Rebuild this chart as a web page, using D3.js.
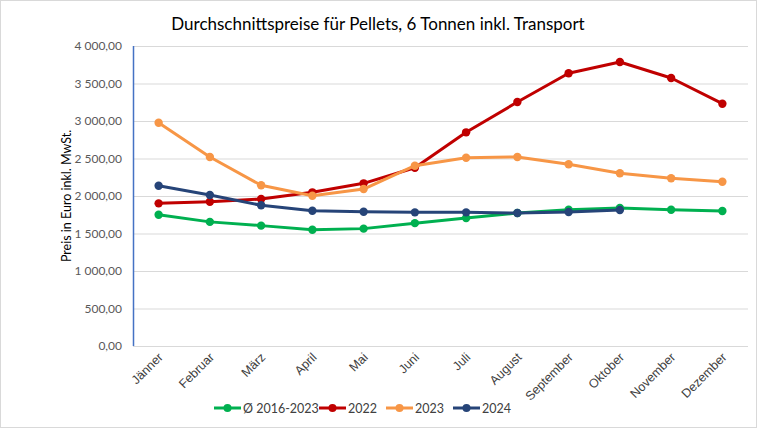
<!DOCTYPE html>
<html>
<head>
<meta charset="utf-8">
<script src="https://cdn.jsdelivr.net/npm/d3@7"></script>
<style>
  html, body { margin: 0; padding: 0; background: #fff; }
  svg { display: block; font-family: Lato, "Open Sans", sans-serif; }
</style>
</head>
<body>
<svg id="chart" width="758" height="429"></svg>
<script>
const months = ["Jänner","Februar","März","April","Mai","Juni","Juli","August","September","Oktober","November","Dezember"];
const avg2016_2023 = [1750,1655,1605,1550,1565,1638,1707,1773,1817,1840,1817,1800];
const y2022 = [1902,1924,1960,2049,2169,2377,2849,3253,3636,3787,3573,3231];
const y2023 = [2977,2520,2143,2004,2093,2404,2511,2520,2423,2303,2236,2191];
const y2024 = [2137,2013,1876,1804,1791,1782,1782,1773,1787,1813,null,null];
const yTicks = [0,500,1000,1500,2000,2500,3000,3500,4000];
const seriesNames = ["Ø 2016-2023","2022","2023","2024"];
const seriesColors = ["#00b050","#c00000","#f79646","#264478"];
const seriesData = [avg2016_2023, y2022, y2023, y2024];

const svg = d3.select("#chart");
const W = 758, H = 429;
const m = {left: 133, right: 10, top: 46, bottom: 83};

svg.append("rect").attr("x",0.5).attr("y",0.5).attr("width",W-2).attr("height",H-2)
  .attr("fill","#fff").attr("stroke","#d9d9d9");

const x = d3.scaleBand().domain(months).range([m.left, 748]);
const y = d3.scaleLinear().domain([0,4000]).range([346, 46]);

const fmt = v => {
  const s = d3.format(",.2f")(v);
  return s.replace(/,/g," ").replace(".",",");
};

// gridlines
const yAxis = d3.axisLeft(y).tickValues(yTicks).tickSize(-(748 - m.left)).tickFormat(fmt).tickPadding(11);
const gy = svg.append("g").attr("transform",`translate(${m.left},0)`).call(yAxis);
gy.select(".domain").remove();
gy.selectAll(".tick line").attr("stroke","#d9d9d9").attr("stroke-width",1);
gy.selectAll(".tick text").attr("fill","#595959").style("font-size","12px").style("font-family","Lato, sans-serif");

// vertical axis line
svg.append("line").attr("x1",m.left+0.5).attr("x2",m.left+0.5).attr("y1",y(4000)).attr("y2",y(0))
  .attr("stroke","#4472c4").attr("stroke-width",1.5);

// x axis labels
const xAxis = d3.axisBottom(x).tickSize(0).tickPadding(0);
const gx = svg.append("g").attr("transform",`translate(0,${y(0)})`).call(xAxis);
gx.select(".domain").remove();
gx.selectAll(".tick text")
  .attr("fill","#404040").style("font-size","12.5px")
  .attr("text-anchor","end")
  .attr("dy","0")
  .attr("y",0)
  .attr("transform","translate(5,12) rotate(-45)");

// lines
const line = d3.line().defined(d => d != null)
  .x((d,i) => x(months[i]) + x.bandwidth()/2).y(d => y(d));

seriesData.forEach((data, si) => {
  const g = svg.append("g");
  g.append("path").datum(data).attr("d", line)
    .attr("fill","none").attr("stroke",seriesColors[si]).attr("stroke-width",3)
    .attr("stroke-linejoin","round").attr("stroke-linecap","round");
  g.selectAll("circle").data(data.map((v,i)=>({v,i})).filter(d=>d.v!=null)).join("circle")
    .attr("cx", d => x(months[d.i]) + x.bandwidth()/2)
    .attr("cy", d => y(d.v))
    .attr("r", 4.2)
    .attr("fill", seriesColors[si]);
});

// title
svg.append("text").attr("x",378).attr("y",30).attr("text-anchor","middle")
  .attr("fill","#000").style("font-size","17px").text("Durchschnittspreise für Pellets, 6 Tonnen inkl. Transport");

// y axis title
svg.append("text").attr("transform","translate(71,196) rotate(-90)").attr("text-anchor","middle")
  .attr("fill","#000").style("font-size","12.5px").text("Preis in Euro inkl. MwSt.");

// legend
const legX = [214, 319, 386, 453];
seriesNames.forEach((name, i) => {
  const g = svg.append("g").attr("transform",`translate(${legX[i]},408)`);
  g.append("line").attr("x1",0).attr("x2",27).attr("y1",0).attr("y2",0)
    .attr("stroke",seriesColors[i]).attr("stroke-width",3);
  g.append("circle").attr("cx",13.5).attr("cy",0).attr("r",4).attr("fill",seriesColors[i]);
  g.append("text").attr("x",29).attr("y",4.5).attr("fill","#404040").style("font-size","12.5px").text(name);
});
</script>
</body>
</html>
